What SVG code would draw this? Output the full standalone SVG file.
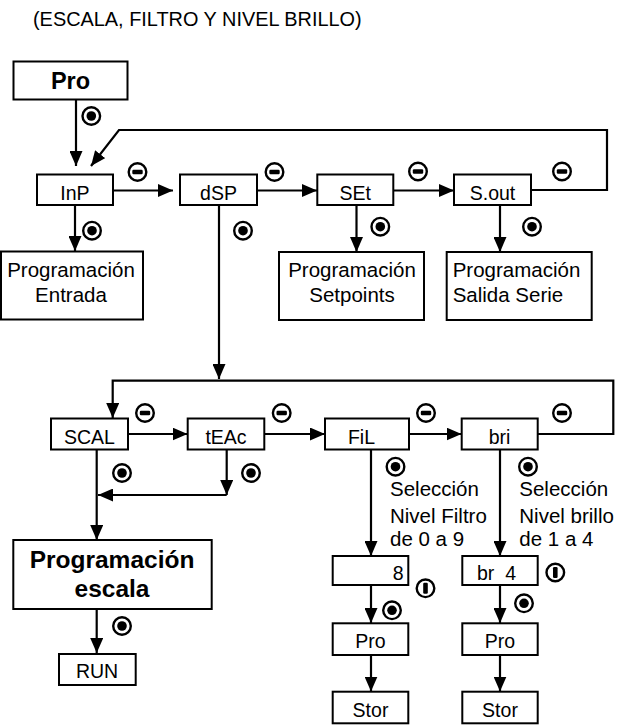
<svg xmlns="http://www.w3.org/2000/svg" xmlns:xlink="http://www.w3.org/1999/xlink" width="636" height="728" viewBox="0 0 636 728">
<style>
.box{fill:#fff;stroke:#000;stroke-width:2}
.t{font-family:"Liberation Sans",Arial,sans-serif;font-size:19.5px;fill:#000}
.m{font-size:20.5px}
.c{text-anchor:middle}
.b{font-weight:bold;font-size:24.5px}
.ln{fill:none;stroke:#000;stroke-width:2.2}
.sym{fill:#fff;stroke:#000;stroke-width:2.4}
</style>
<defs>
<marker id="ah" viewBox="0 0 15 13" refX="15" refY="6.5" markerWidth="15" markerHeight="13" markerUnits="userSpaceOnUse" orient="auto">
<path d="M0,0 L15,6.5 L0,13 z" fill="#000"/>
</marker>
<g id="ok"><circle class="sym" r="8.8"/><circle r="4.8" fill="#000"/></g>
<g id="minus"><circle class="sym" r="8.8"/><rect x="-5.2" y="-2.3" width="10.4" height="4.6" rx="1.2" fill="#000"/></g>
<g id="inc"><circle class="sym" r="8.8"/><rect x="-2.3" y="-5.5" width="4.6" height="11" rx="1.2" fill="#000"/></g>
</defs>
<rect width="636" height="728" fill="#fff"/>
<text class="t" x="33" y="26" style="font-size:19.9px">(ESCALA, FILTRO Y NIVEL BRILLO)</text>

<g id="connectors">
<line class="ln" x1="76" y1="99" x2="76" y2="166" marker-end="url(#ah)"/>
<polyline class="ln" points="531,190 607,190 607,130 119,130 91,166" marker-end="url(#ah)"/>
<line class="ln" x1="113" y1="190.5" x2="173" y2="190.5" marker-end="url(#ah)"/>
<line class="ln" x1="257" y1="190.5" x2="317" y2="190.5" marker-end="url(#ah)"/>
<line class="ln" x1="393" y1="190.5" x2="454" y2="190.5" marker-end="url(#ah)"/>
<line class="ln" x1="75" y1="205" x2="75" y2="251" marker-end="url(#ah)"/>
<line class="ln" x1="356.5" y1="205" x2="356.5" y2="252" marker-end="url(#ah)"/>
<line class="ln" x1="500" y1="205" x2="500" y2="252" marker-end="url(#ah)"/>
<line class="ln" x1="219" y1="205" x2="219" y2="379" marker-end="url(#ah)"/>
<polyline class="ln" points="537.7,434 613.3,434 613.3,380.7 112.7,380.7 112.7,418" marker-end="url(#ah)"/>
<line class="ln" x1="128" y1="434" x2="187.5" y2="434" marker-end="url(#ah)"/>
<line class="ln" x1="264" y1="434" x2="325" y2="434" marker-end="url(#ah)"/>
<line class="ln" x1="409" y1="434" x2="461.5" y2="434" marker-end="url(#ah)"/>
<line class="ln" x1="96.7" y1="449" x2="96.7" y2="540" marker-end="url(#ah)"/>
<line class="ln" x1="226.7" y1="449" x2="226.7" y2="495" marker-end="url(#ah)"/>
<line class="ln" x1="226.7" y1="495" x2="98" y2="495" marker-end="url(#ah)"/>
<line class="ln" x1="96.7" y1="609" x2="96.7" y2="653" marker-end="url(#ah)"/>
<line class="ln" x1="371" y1="449" x2="371" y2="556" marker-end="url(#ah)"/>
<line class="ln" x1="500" y1="449" x2="500" y2="556" marker-end="url(#ah)"/>
<line class="ln" x1="371" y1="585" x2="371" y2="623" marker-end="url(#ah)"/>
<line class="ln" x1="500" y1="585" x2="500" y2="623" marker-end="url(#ah)"/>
<line class="ln" x1="371" y1="655" x2="371" y2="691.5" marker-end="url(#ah)"/>
<line class="ln" x1="500" y1="655" x2="500" y2="691.5" marker-end="url(#ah)"/>
</g>

<g id="symbols">
<use xlink:href="#ok" x="91.3" y="116"/>
<use xlink:href="#ok" x="92" y="230.7"/>
<use xlink:href="#ok" x="243" y="230.7"/>
<use xlink:href="#ok" x="380.3" y="226.7"/>
<use xlink:href="#ok" x="532" y="226.7"/>
<use xlink:href="#ok" x="122" y="473"/>
<use xlink:href="#ok" x="251" y="473"/>
<use xlink:href="#ok" x="395.5" y="466.7"/>
<use xlink:href="#ok" x="528" y="466.7"/>
<use xlink:href="#ok" x="392" y="610.3"/>
<use xlink:href="#ok" x="524" y="603.3"/>
<use xlink:href="#ok" x="122" y="626"/>
<use xlink:href="#minus" x="137.5" y="172"/>
<use xlink:href="#minus" x="274.5" y="172"/>
<use xlink:href="#minus" x="418" y="171.5"/>
<use xlink:href="#minus" x="562" y="171.5"/>
<use xlink:href="#minus" x="145" y="413"/>
<use xlink:href="#minus" x="281.7" y="413"/>
<use xlink:href="#minus" x="426" y="413"/>
<use xlink:href="#minus" x="562" y="413"/>
<use xlink:href="#inc" x="425.5" y="588.3"/>
<use xlink:href="#inc" x="555.3" y="572.5"/>
</g>

<g id="n-pro"><rect class="box" x="13.5" y="61.5" width="114" height="38"/><text class="t c b" x="70.5" y="89" style="font-size:23.5px">Pro</text></g>
<g id="n-inp"><rect class="box" x="37" y="174.5" width="76" height="30.5"/><text class="t c" x="75" y="200">InP</text></g>
<g id="n-dsp"><rect class="box" x="180" y="174.5" width="77" height="30.5"/><text class="t c" x="218.5" y="200">dSP</text></g>
<g id="n-set"><rect class="box" x="317.3" y="174.5" width="76" height="30.5"/><text class="t c" x="355.3" y="200">SEt</text></g>
<g id="n-sout"><rect class="box" x="454" y="174.5" width="77" height="30.5"/><text class="t c" x="492.5" y="200">S.out</text></g>
<g id="n-entrada"><rect class="box" x="1" y="251.5" width="142" height="68"/><text class="t m c" x="71" y="276.5">Programación</text><text class="t m c" x="71" y="301.5">Entrada</text></g>
<g id="n-setpoints"><rect class="box" x="279" y="252" width="145" height="68"/><text class="t m c" x="352" y="276.5">Programación</text><text class="t m c" x="352" y="301.5">Setpoints</text></g>
<g id="n-serie"><rect class="box" x="446.7" y="252" width="145" height="68"/><text class="t m" x="452.7" y="276.5">Programación</text><text class="t m" x="452.7" y="301.5">Salida Serie</text></g>
<g id="n-scal"><rect class="box" x="51" y="418.5" width="77" height="31"/><text class="t c" x="89.5" y="444">SCAL</text></g>
<g id="n-teac"><rect class="box" x="187.7" y="418.5" width="76.6" height="31"/><text class="t c" x="226" y="444">tEAc</text></g>
<g id="n-fil"><rect class="box" x="325" y="418.5" width="84" height="31"/><text class="t c" x="361.5" y="444">FiL</text></g>
<g id="n-bri"><rect class="box" x="461.7" y="418.5" width="76" height="31"/><text class="t c" x="499.5" y="444">bri</text></g>
<g id="n-fil-text"><text class="t m" x="390" y="496">Selección</text><text class="t m" x="390" y="522.5">Nivel Filtro</text><text class="t m" x="390" y="546">de 0 a 9</text></g>
<g id="n-bri-text"><text class="t m" x="519.3" y="496">Selección</text><text class="t m" x="519.3" y="522.5">Nivel brillo</text><text class="t m" x="519.3" y="546">de 1 a 4</text></g>
<g id="n-escala"><rect class="box" x="13.3" y="540" width="198.4" height="69"/><text class="t c b" x="112" y="568">Programación</text><text class="t c b" x="112" y="597">escala</text></g>
<g id="n-run"><rect class="box" x="59" y="654" width="76.7" height="31"/><text class="t c" x="97" y="678">RUN</text></g>
<g id="n-8"><rect class="box" x="332.7" y="556" width="75.6" height="29"/><text class="t" x="403.5" y="580" text-anchor="end">8</text></g>
<g id="n-br4"><rect class="box" x="462.3" y="556" width="75.4" height="29"/><text class="t" x="477" y="580" xml:space="preserve">br  4</text></g>
<g id="n-pro1"><rect class="box" x="332.7" y="623.3" width="75.6" height="31.7"/><text class="t c" x="370.5" y="648">Pro</text></g>
<g id="n-pro2"><rect class="box" x="462.3" y="623.3" width="75.4" height="31.7"/><text class="t c" x="500" y="648">Pro</text></g>
<g id="n-stor1"><rect class="box" x="332.7" y="691.7" width="75.6" height="31.6"/><text class="t c" x="370.5" y="716.5">Stor</text></g>
<g id="n-stor2"><rect class="box" x="462.3" y="691.7" width="75.4" height="31.6"/><text class="t c" x="500" y="716.5">Stor</text></g>
</svg>
